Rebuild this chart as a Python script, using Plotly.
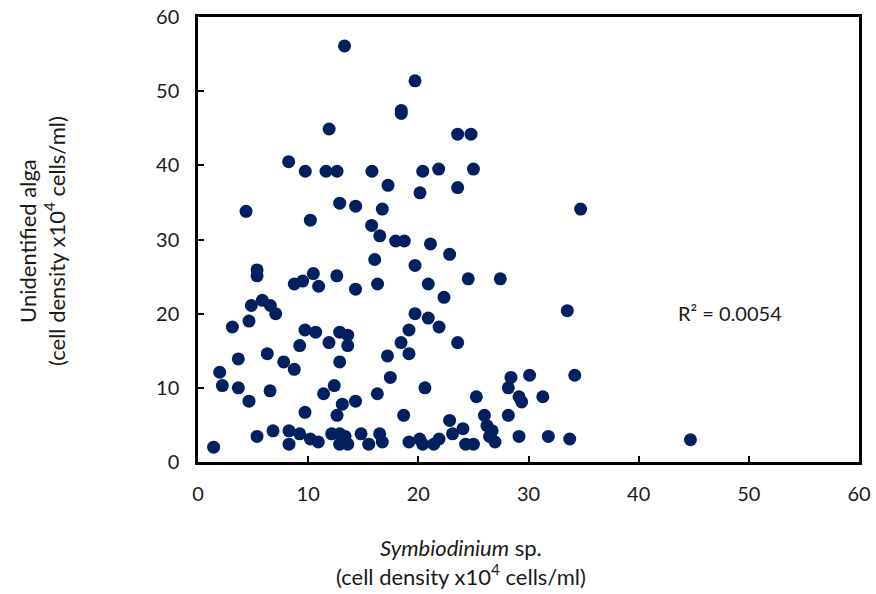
import plotly.graph_objects as go

# Cell densities (x10^4 cells/ml) for each sample
symbiodinium = [
    13.3, 19.7, 18.45, 18.45, 11.9, 23.57, 24.78, 8.23, 9.74, 11.62,
    12.62, 15.79, 20.4, 21.85, 25.0, 17.25, 20.15, 23.57, 4.36, 12.86,
    14.31, 16.73, 34.73, 10.2, 15.76, 16.5, 17.94, 18.73, 21.1, 22.84,
    16.04, 19.7, 5.36, 5.36, 10.47, 12.6, 8.74, 9.5, 10.95, 14.3,
    16.3, 20.9, 24.53, 27.44, 22.33, 4.84, 5.84, 6.57, 7.05, 4.63,
    19.7, 20.9, 33.52, 3.12, 9.71, 10.68, 12.86, 13.59, 13.59, 9.23,
    11.89, 19.15, 18.43, 19.15, 17.2, 6.29, 3.66, 7.78, 8.74, 12.86,
    1.97, 2.21, 3.66, 6.54, 4.63, 12.37, 11.4, 13.1, 14.3, 12.62,
    9.71, 17.46, 16.28, 20.6, 18.67, 21.88, 23.57, 25.27, 28.41, 28.17,
    30.1, 29.14, 29.38, 31.3, 34.2, 26.0, 28.17, 22.84, 24.05, 23.1,
    26.23, 26.7, 26.47, 26.96, 21.88, 21.4, 24.3, 25.0, 29.14, 31.8,
    33.74, 44.7, 1.42, 5.36, 6.81, 8.26, 8.26, 9.23, 10.2, 10.92,
    12.13, 12.86, 12.86, 13.59, 13.35, 14.8, 15.5, 16.49, 16.73, 19.15,
    20.12, 20.4,
]
unidentified_alga = [
    56.1, 51.4, 47.4, 47.0, 44.9, 44.2, 44.2, 40.5, 39.2, 39.2,
    39.2, 39.2, 39.2, 39.5, 39.5, 37.3, 36.3, 37.0, 33.8, 34.9,
    34.5, 34.1, 34.1, 32.6, 31.9, 30.5, 29.8, 29.8, 29.4, 28.0,
    27.3, 26.5, 25.9, 25.1, 25.4, 25.1, 24.0, 24.4, 23.7, 23.3,
    24.0, 24.0, 24.7, 24.7, 22.2, 21.1, 21.8, 21.1, 20.0, 19.0,
    20.0, 19.4, 20.4, 18.2, 17.8, 17.5, 17.5, 17.1, 15.7, 15.7,
    16.1, 17.8, 16.1, 14.6, 14.3, 14.6, 13.9, 13.5, 12.5, 13.5,
    12.1, 10.3, 10.0, 9.6, 8.2, 10.3, 9.2, 7.8, 8.2, 6.3,
    6.7, 11.4, 9.2, 10.0, 6.3, 18.2, 16.1, 8.8, 11.4, 10.0,
    11.7, 8.8, 8.1, 8.8, 11.7, 6.3, 6.3, 5.6, 4.5, 3.8,
    4.9, 4.2, 3.45, 2.7, 3.1, 2.4, 2.4, 2.4, 3.45, 3.45,
    3.1, 3.0, 2.0, 3.45, 4.2, 4.2, 2.4, 3.8, 3.1, 2.7,
    3.8, 3.8, 2.4, 2.4, 3.45, 3.8, 2.4, 3.8, 2.7, 2.7,
    3.1, 2.4,
]
r_squared_label = "R² = 0.0054"
axis_ticks = [0, 10, 20, 30, 40, 50, 60]

FONT = "Lato, 'Open Sans', sans-serif"
TEXT = "#1a1a1a"
NAVY = "#002060"

# plot-area frame in pixels, used to place the free-floating titles
PLOT_L, PLOT_R, PLOT_T, PLOT_B = 198, 859, 17, 462
W, H = 876, 594


def paper_x(px):
    return (px - PLOT_L) / (PLOT_R - PLOT_L)


def paper_y(py):
    return (PLOT_B - py) / (PLOT_B - PLOT_T)


fig = go.Figure(
    go.Scatter(
        x=symbiodinium,
        y=unidentified_alga,
        mode="markers",
        marker=dict(size=13, color=NAVY, line=dict(width=0)),
        showlegend=False,
    )
)

axis_style = dict(
    range=[0, 60],
    tickvals=axis_ticks,
    showgrid=False,
    zeroline=False,
    showline=True,
    linecolor="black",
    linewidth=2.5,
    mirror=True,
    ticks="inside",
    ticklen=6,
    tickwidth=1.5,
    tickcolor="black",
    tickfont=dict(family=FONT, size=20, color=TEXT),
    automargin=False,
)

fig.update_xaxes(**axis_style, ticklabelstandoff=12)
fig.update_yaxes(**axis_style, ticklabelstandoff=12)

fig.update_layout(
    width=W,
    height=H,
    autosize=False,
    margin=dict(l=PLOT_L, r=W - PLOT_R, t=PLOT_T, b=H - PLOT_B, pad=0, autoexpand=False),
    paper_bgcolor="white",
    plot_bgcolor="white",
    font=dict(family=FONT, size=20, color=TEXT),
    annotations=[
        dict(
            text=r_squared_label,
            xref="paper", yref="paper",
            x=paper_x(676), y=paper_y(313),
            xanchor="left", yanchor="middle",
            showarrow=False,
            font=dict(family=FONT, size=20, color=TEXT),
        ),
        dict(
            text="<i>Symbiodinium</i> sp.<br>(cell density x10<sup>4</sup> cells/ml)",
            xref="paper", yref="paper",
            x=paper_x(461), y=paper_y(562),
            xanchor="center", yanchor="middle",
            showarrow=False,
            font=dict(family=FONT, size=22, color=TEXT),
        ),
        dict(
            text="Unidentified alga<br>(cell density x10<sup>4</sup> cells/ml)",
            xref="paper", yref="paper",
            x=paper_x(42), y=paper_y(241),
            xanchor="center", yanchor="middle",
            textangle=-90,
            showarrow=False,
            font=dict(family=FONT, size=22, color=TEXT),
        ),
    ],
)

fig.write_html("out.html")
